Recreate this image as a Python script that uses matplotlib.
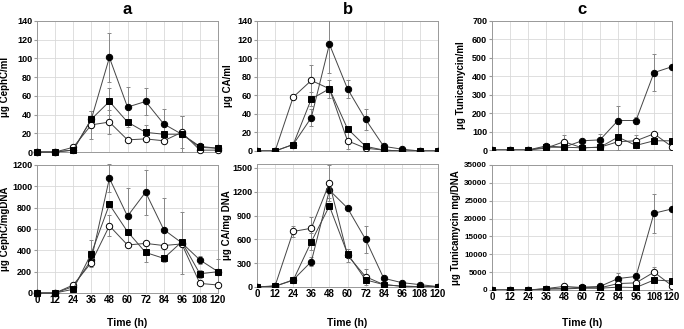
import matplotlib.pyplot as plt

plt.rcParams['font.family'] = ['Liberation Sans', 'DejaVu Sans']
plt.rcParams['font.weight'] = 'bold'

# time points (h)
time = [0, 12, 24, 36, 48, 60, 72, 84, 96, 108, 120]

# a: cephamycin C per ml
ceph_ml_fc = [0, 0, 2, 35, 101, 48, 54, 30, 19, 6, 4]
ceph_ml_fc_err = [0, 0, 0, 0, 26, 21, 14, 16, 19, 0, 0]
ceph_ml_sq = [0, 0, 2, 35, 54, 32, 21, 19, 19, 5, 4]
ceph_ml_sq_err = [0, 0, 0, 9, 14, 0, 8, 0, 0, 0, 0]
ceph_ml_oc = [0, 0, 5, 29, 32, 13, 14, 12, 21, 2, 2]
ceph_ml_oc_err = [0, 0, 0, 15, 13, 0, 0, 0, 17, 0, 0]

# a: cephamycin C per mg DNA
ceph_dna_fc = [0, 0, 60, 310, 1075, 720, 945, 595, 470, 310, 200]
ceph_dna_fc_err = [0, 0, 0, 0, 130, 265, 210, 300, 290, 40, 0]
ceph_dna_sq = [0, 0, 35, 370, 830, 575, 380, 325, 480, 180, 200]
ceph_dna_sq_err = [0, 0, 0, 130, 0, 0, 90, 0, 0, 40, 120]
ceph_dna_oc = [0, 0, 75, 285, 630, 450, 465, 445, 460, 90, 75]
ceph_dna_oc_err = [0, 0, 0, 0, 100, 0, 0, 0, 0, 0, 0]

# b: clavulanic acid per ml
ca_ml_fc = [0, 0, 7, 36, 115, 67, 34, 5, 2, 0, 0]
ca_ml_fc_err = [0, 0, 0, 9, 31, 10, 11, 0, 0, 0, 0]
ca_ml_sq = [0, 0, 7, 56, 67, 24, 5, 1, 0, 0, 0]
ca_ml_sq_err = [0, 0, 0, 8, 10, 3, 0, 0, 0, 0, 0]
ca_ml_oc = [0, 0, 58, 76, 67, 11, 3, 1, 0, 0, 0]
ca_ml_oc_err = [0, 0, 0, 17, 0, 9, 0, 0, 0, 0, 0]

# b: clavulanic acid per mg DNA
ca_dna_fc = [0, 10, 90, 320, 1220, 995, 600, 110, 55, 30, 5]
ca_dna_fc_err = [0, 0, 0, 60, 100, 0, 175, 0, 0, 0, 0]
ca_dna_sq = [0, 10, 85, 570, 1020, 420, 90, 30, 10, 5, 5]
ca_dna_sq_err = [0, 0, 0, 110, 0, 0, 0, 0, 0, 0, 0]
ca_dna_oc = [0, 15, 700, 740, 1310, 400, 130, 30, 10, 5, 5]
ca_dna_oc_err = [0, 0, 70, 140, 230, 80, 100, 0, 0, 0, 0]

# c: tunicamycin per ml
tun_ml_fc = [0, 0, 0, 22, 15, 50, 55, 160, 160, 420, 452]
tun_ml_fc_err = [0, 0, 0, 0, 0, 0, 30, 80, 20, 100, 0]
tun_ml_sq = [0, 0, 0, 15, 15, 12, 15, 70, 25, 50, 50]
tun_ml_sq_err = [0, 0, 0, 0, 0, 0, 0, 70, 0, 0, 0]
tun_ml_oc = [0, 0, 0, 10, 45, 12, 15, 45, 50, 88, 18]
tun_ml_oc_err = [0, 0, 0, 0, 35, 0, 0, 0, 30, 0, 0]

# c: tunicamycin per mg DNA
tun_dna_fc = [0, 0, 0, 300, 400, 800, 1000, 3200, 3800, 21500, 22700]
tun_dna_fc_err = [0, 0, 0, 0, 0, 0, 0, 1600, 0, 5500, 0]
tun_dna_sq = [0, 0, 0, 300, 300, 500, 500, 800, 700, 2800, 2500]
tun_dna_sq_err = [0, 0, 0, 0, 0, 0, 0, 0, 0, 0, 0]
tun_dna_oc = [0, 0, 0, 400, 1000, 700, 600, 1800, 2000, 5000, 1200]
tun_dna_oc_err = [0, 0, 0, 0, 0, 0, 0, 0, 0, 1500, 0]

W, H = 684, 329
fig = plt.figure(figsize=(W / 100, H / 100), dpi=100)


def axes_px(l, t, r, b):
    return fig.add_axes([l / W, 1 - b / H, (r - l) / W, (b - t) / H])


def draw(ax, fc, fce, sq, sqe, oc, oce, ymax, ystep, ylabel, labx, bottom, clip, tsize=6.5):
    for y, e, mk, face in [(fc, fce, 'o', 'black'),
                           (oc, oce, 'o', 'white'),
                           (sq, sqe, 's', 'black')]:
        ax.errorbar(time, y, yerr=e, color='#444444', lw=0.7, marker=mk,
                    mfc=face, mec='black', mew=0.7, ms=4.6,
                    ecolor='#888888', elinewidth=0.7, capsize=1.5,
                    capthick=0.6, clip_on=clip, zorder=3)
    ax.set_xlim(0, 120)
    ax.set_ylim(0, ymax)
    ax.set_xticks(time)
    ax.set_yticks(range(0, int(ymax) + 1, ystep))
    ax.grid(True, color='#d9d9d9', lw=0.6)
    ax.set_axisbelow(True)
    for s in ax.spines.values():
        s.set_color('#999999')
        s.set_linewidth(0.7)
    ax.tick_params(axis='y', labelsize=tsize, length=2, color='#999999', pad=1.5)
    ax.tick_params(axis='x', labelsize=7, length=0, pad=1.5)
    if not bottom:
        ax.set_xticklabels([])
    else:
        pos = ax.get_position()
        fig.text((pos.x0 + pos.x1) / 2, 1 - 323 / H, 'Time (h)', fontsize=7.5,
                 fontweight='bold', ha='center', va='center')
    ax.set_ylabel(ylabel, fontsize=7, fontweight='bold')
    ax.yaxis.set_label_coords(labx, 0.5)


ax = axes_px(37, 21, 218, 152)
draw(ax, ceph_ml_fc, ceph_ml_fc_err, ceph_ml_sq, ceph_ml_sq_err, ceph_ml_oc, ceph_ml_oc_err,
     140, 20, 'μg CephC/ml', (10 - 37) / 181, False, False)
ax.set_title('a', fontsize=12, fontweight='bold', pad=5)

ax = axes_px(37, 165, 218, 293)
draw(ax, ceph_dna_fc, ceph_dna_fc_err, ceph_dna_sq, ceph_dna_sq_err, ceph_dna_oc, ceph_dna_oc_err,
     1200, 200, 'μg CephC/mgDNA', (10 - 37) / 181, True, False)

ax = axes_px(257, 21, 438, 151)
draw(ax, ca_ml_fc, ca_ml_fc_err, ca_ml_sq, ca_ml_sq_err, ca_ml_oc, ca_ml_oc_err,
     140, 20, 'μg CA/ml', (233 - 257) / 181, False, True)
ax.set_title('b', fontsize=12, fontweight='bold', pad=5)

ax = axes_px(257, 164, 438, 287)
draw(ax, ca_dna_fc, ca_dna_fc_err, ca_dna_sq, ca_dna_sq_err, ca_dna_oc, ca_dna_oc_err,
     1550, 300, 'μg CA/mg DNA', (232 - 257) / 181, True, True)

ax = axes_px(492, 21, 672, 150)
draw(ax, tun_ml_fc, tun_ml_fc_err, tun_ml_sq, tun_ml_sq_err, tun_ml_oc, tun_ml_oc_err,
     700, 100, 'μg Tunicamycin/ml', (466 - 492) / 180, False, True)
ax.set_title('c', fontsize=12, fontweight='bold', pad=5)

ax = axes_px(492, 165, 672, 290)
draw(ax, tun_dna_fc, tun_dna_fc_err, tun_dna_sq, tun_dna_sq_err, tun_dna_oc, tun_dna_oc_err,
     35000, 5000, 'μg Tunicamycin mg/DNA', (461 - 492) / 180, True, True, tsize=5.8)

fig.savefig('out.png', dpi=100)
